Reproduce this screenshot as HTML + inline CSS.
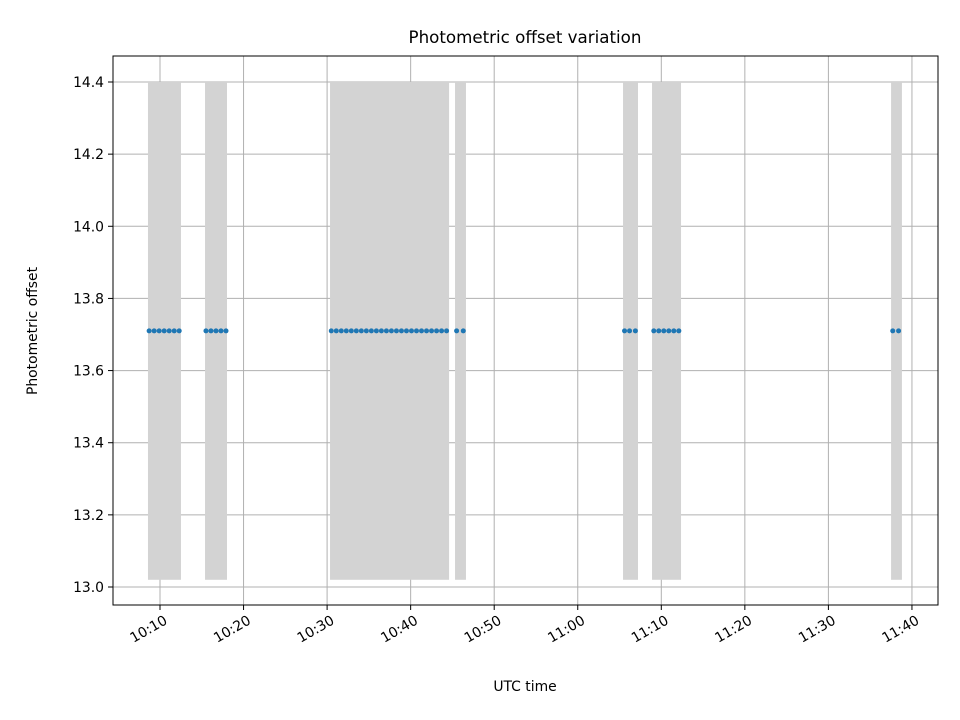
<!DOCTYPE html>
<html><head><meta charset="utf-8"><style>
body{margin:0;background:#fff;}
svg{display:block;font-family:"DejaVu Sans","Liberation Sans",sans-serif;}
</style></head><body>
<svg id="chart" width="960" height="720">
<rect x="0" y="0" width="960" height="720" fill="#fff"/>
<text x="525" y="43" text-anchor="middle" font-size="16.7">Photometric offset variation</text>
<text x="525" y="691" text-anchor="middle" font-size="13.9">UTC time</text>
<text transform="translate(37,331) rotate(-90)" text-anchor="middle" font-size="13.9">Photometric offset</text>
<g id="grid"></g><g id="spans"></g><g id="points"></g><g id="ticks"></g>
<rect x="113" y="56" width="825" height="549" fill="none" stroke="#000" stroke-width="1"/>
</svg>
<script>
// minutes after 10:00
const spanStarts=[8.56,15.39,30.35,45.31,65.42,68.89,97.5];
const spanEnds=[12.51,18.02,44.6,46.62,67.21,72.36,98.8];
const spanLow=13.02, spanHigh=14.4;
const obsTimes=[8.7,9.3,9.9,10.5,11.1,11.7,12.3,
15.5,16.1,16.7,17.3,17.9,
30.5,31.1,31.7,32.3,32.9,33.5,34.1,34.7,35.3,35.9,36.5,37.1,37.7,38.3,38.9,39.5,40.1,40.7,41.3,41.9,42.5,43.1,43.7,44.3,
45.5,46.3,
65.6,66.2,66.9,
69.1,69.7,70.3,70.9,71.5,72.1,
97.7,98.4];
const obsValues=obsTimes.map(()=>13.71);
const xTicks=[10,20,30,40,50,60,70,80,90,100];
const xTickLabels=["10:10","10:20","10:30","10:40","10:50","11:00","11:10","11:20","11:30","11:40"];
const yTicks=[13.0,13.2,13.4,13.6,13.8,14.0,14.2,14.4];
const yTickLabels=["13.0","13.2","13.4","13.6","13.8","14.0","14.2","14.4"];
const NS="http://www.w3.org/2000/svg";
const X=m=>160+(m-10)*8.355;
const Y=v=>587-(v-13.0)*(505/1.4);
function mk(tag,attrs,parent){const e=document.createElementNS(NS,tag);for(const k in attrs)e.setAttribute(k,attrs[k]);document.getElementById(parent).appendChild(e);return e;}
xTicks.forEach((t,i)=>{
 const g=mk('line',{x1:X(t),x2:X(t),y1:56,y2:605,stroke:'#b0b0b0','stroke-width':1},'grid');
 
 
 const tk=mk('line',{x1:X(t),x2:X(t),y1:605,y2:610,stroke:'#000'},'ticks');
 
 
 const tx=mk('text',{transform:`translate(${X(t)+3},${614}) rotate(-30)`,'text-anchor':'end','font-size':13.9,dy:'0.75em'},'ticks');
 tx.textContent=xTickLabels[i];
 
 
});
yTicks.forEach((t,i)=>{
 const g=mk('line',{x1:113,x2:938,y1:Y(t),y2:Y(t),stroke:'#b0b0b0','stroke-width':1},'grid');
 
 
 const tk=mk('line',{x1:108,x2:113,y1:Y(t),y2:Y(t),stroke:'#000'},'ticks');
 
 
 const tx=mk('text',{x:104,y:Y(t)+5,'text-anchor':'end','font-size':13.9},'ticks');
 tx.textContent=yTickLabels[i];
 
 
});
spanStarts.forEach((s,i)=>{
 const r=mk('rect',{x:X(s),y:Y(spanHigh),width:X(spanEnds[i])-X(s),height:Y(spanLow)-Y(spanHigh),fill:'#d3d3d3'},'spans');
 
 
});
obsTimes.forEach((t,i)=>{
 const c=mk('circle',{cx:X(t),cy:Y(obsValues[i]),r:2.5,fill:'#1f77b4'},'points');
 
 
});
</script>
</body></html>
